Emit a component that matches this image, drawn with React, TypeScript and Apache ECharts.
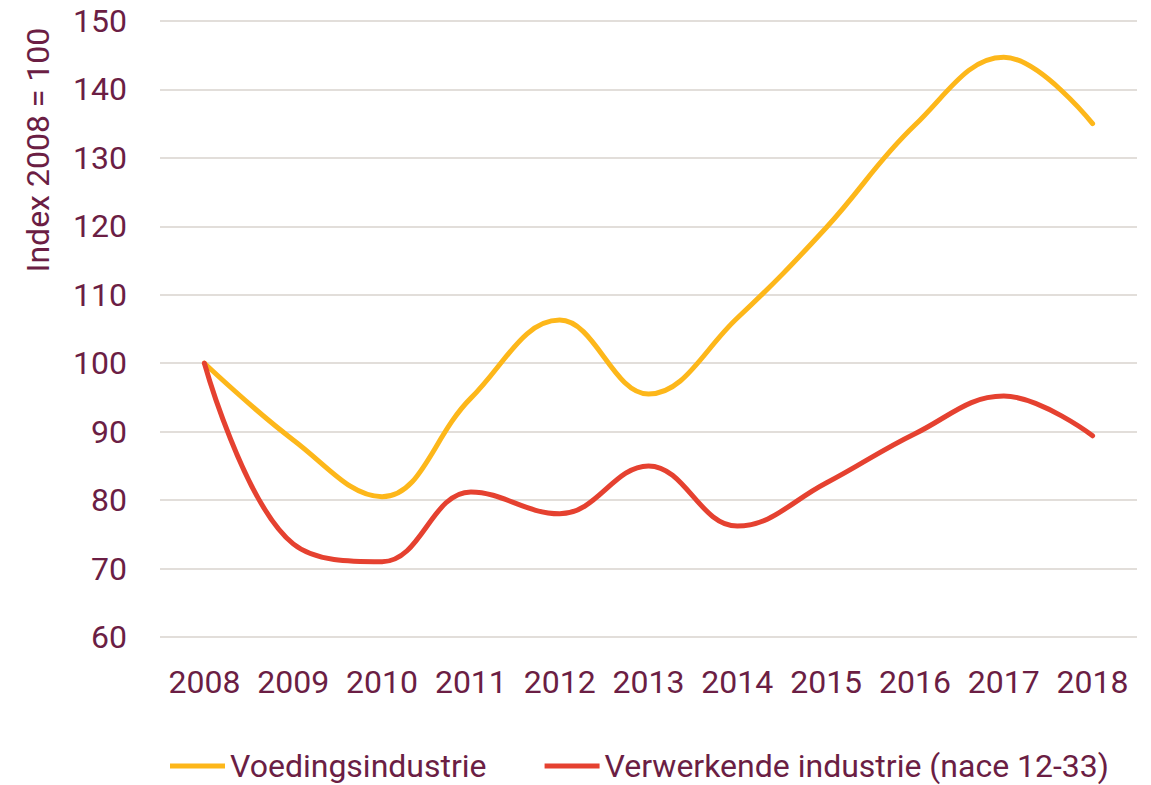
import React, { useEffect, useRef } from "react";
import * as echarts from "echarts";

const years = ["2008", "2009", "2010", "2011", "2012", "2013", "2014", "2015", "2016", "2017", "2018"];
const voeding = [100, 88.8, 80.5, 94.9, 106.3, 95.5, 106.6, 119.8, 134.8, 144.7, 135];
const verwerkend = [100, 73.6, 71, 81.2, 78, 85, 76.2, 82.5, 89.7, 95.2, 89.4];
const seriesNames = ["Voedingsindustrie", "Verwerkende industrie (nace 12-33)"];
const yAxisTitle = "Index 2008 = 100";

const TEXT = "#6b1e44";
const FONT = "Roboto";
const FS = 32;

export default function App() {
  const ref = useRef<HTMLDivElement>(null);
  useEffect(() => {
    if (!ref.current) return;
    const chart = echarts.init(ref.current, undefined, { renderer: "svg" });
    chart.setOption({
      animation: false,
      textStyle: { fontFamily: FONT, color: TEXT },
      grid: { left: 160, right: 14, top: 21, bottom: 148 },
      legend: {
        bottom: -2,
        left: 165,
        itemWidth: 55,
        itemHeight: 5,
        itemGap: 58,
        icon: "rect",
        textStyle: { fontSize: FS, color: TEXT, fontFamily: FONT },
        data: seriesNames,
      },
      graphic: [
        {
          type: "text",
          x: 38,
          y: 150,
          rotation: Math.PI / 2,
          style: {
            text: yAxisTitle,
            fontSize: FS,
            fontFamily: FONT,
            fill: TEXT,
            align: "center",
            verticalAlign: "middle",
          },
        },
      ],
      xAxis: {
        type: "category",
        data: years,
        boundaryGap: true,
        axisLine: { show: false },
        axisTick: { show: false },
        axisLabel: { interval: 0, hideOverlap: false, fontSize: FS, color: TEXT, margin: 29, fontFamily: FONT },
      },
      yAxis: {
        type: "value",
        min: 60,
        max: 150,
        interval: 10,
        axisLine: { show: false },
        axisTick: { show: false },
        axisLabel: { fontSize: FS, color: TEXT, margin: 33, fontFamily: FONT },
        splitLine: { lineStyle: { color: "#e2deda", width: 2 } },
      },
      series: [
        {
          name: seriesNames[0],
          type: "line",
          data: voeding,
          smooth: 0.4,
          symbol: "none",
          lineStyle: { color: "#fdb71a", width: 5, cap: "round" },
          itemStyle: { color: "#fdb71a" },
        },
        {
          name: seriesNames[1],
          type: "line",
          data: verwerkend,
          smooth: 0.4,
          symbol: "none",
          lineStyle: { color: "#e54130", width: 5, cap: "round" },
          itemStyle: { color: "#e54130" },
        },
      ],
    });
    return () => chart.dispose();
  }, []);
  return <div ref={ref} style={{ width: 1151, height: 785, position: "absolute", left: 0, top: 0 }} />;
}
